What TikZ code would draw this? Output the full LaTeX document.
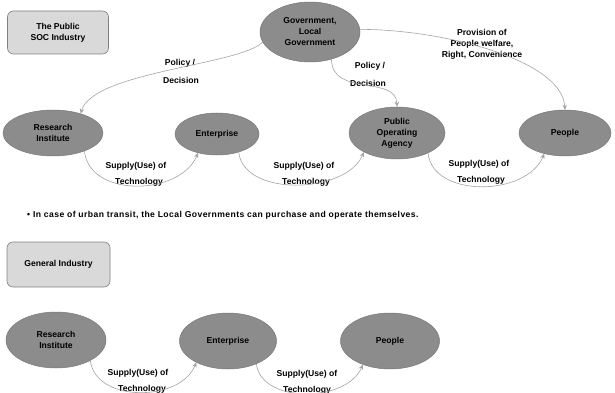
\documentclass[tikz,border=0pt]{standalone}
\usepackage{fontspec}
\setmainfont{Liberation Sans}
\usetikzlibrary{arrows.meta,shapes.geometric}
\definecolor{ellfill}{HTML}{8C8C8C}
\definecolor{elldraw}{HTML}{787878}
\definecolor{boxfill}{HTML}{D9D9D9}
\definecolor{boxdraw}{HTML}{808080}
\definecolor{arrcol}{HTML}{A3A3A3}
\tikzset{
  base/.style={font=\fontsize{8.6}{11}\selectfont\bfseries, text=black, align=center},
  ell/.style={base, ellipse, fill=ellfill, draw=elldraw, line width=0.5pt, inner sep=0pt},
  tagbox/.style={base, rounded corners=6pt, fill=boxfill, draw=boxdraw, line width=0.6pt, inner sep=0pt},
  lbl/.style={base, inner sep=0pt},
  arr/.style={draw=arrcol, line width=0.6pt, -{Stealth[length=5pt,width=4.5pt]}},
}
\begin{document}
\begin{tikzpicture}[x=1pt,y=-1pt]
\useasboundingbox (0,0) rectangle (615,393);
\clip (0,0) rectangle (615,393);
% top section
\node[tagbox, minimum width=101pt, minimum height=43pt] (soc) at (58,32.5) {The Public\\SOC Industry};
\node[ell, minimum width=100pt, minimum height=60pt] (gov) at (310,32) {Government,\\Local\\Government};
\node[ell, minimum width=100pt, minimum height=46pt] (ri1) at (53,133) {Research\\Institute};
\node[ell, minimum width=84pt, minimum height=42pt] (ent1) at (217,134) {Enterprise};
\node[ell, minimum width=96pt, minimum height=52pt] (poa) at (397,133) {Public\\Operating\\Agency};
\node[ell, minimum width=92pt, minimum height=46pt] (ppl1) at (565,133) {People};
% top labels
\node[lbl] (pd1a) at (180,63) {Policy /};
\node[lbl] (pd1b) at (181,80) {Decision};
\node[lbl] (pd2a) at (370,66) {Policy /};
\node[lbl] (pd2b) at (368,83) {Decision};
\node[lbl] (prov) at (482,44) {Provision of\\People welfare,\\Right, Convenience};
\node[lbl] (s1a) at (136,166) {Supply(Use) of};
\node[lbl] (s1b) at (139,182) {Technology};
\node[lbl] (s2a) at (304,166) {Supply(Use) of};
\node[lbl] (s2b) at (306,182) {Technology};
\node[lbl] (s3a) at (479,164) {Supply(Use) of};
\node[lbl] (s3b) at (481,180) {Technology};
% top connectors
\draw[arr] (gov.192) .. controls +(-22,23) and +(12,-42) .. (ri1.35);
\draw[arr] (gov.-52) .. controls +(1,38) and +(-1,-32) .. (poa.north);
\draw[arr] (gov.3) .. controls +(82,0) and +(-3,-50) .. (ppl1.north);
\draw[arr] (ri1.-30) .. controls +(5,47) and +(-18,43) .. (ent1.-135);
\draw[arr] (ent1.-40) .. controls +(5,45) and +(-18,42) .. (poa.-150);
\draw[arr] (poa.-33) .. controls +(5,45) and +(-18,43) .. (ppl1.-135);
% note
\node[lbl, anchor=west] (note) at (27,215) {\addfontfeature{LetterSpace=4.9}• In case of urban transit, the Local Governments can purchase and operate themselves.};
% bottom section
\node[tagbox, minimum width=103pt, minimum height=45pt] (gen) at (58.5,264.5) {General Industry};
\node[ell, minimum width=100pt, minimum height=56pt] (ri2) at (56,340) {Research\\Institute};
\node[ell, minimum width=97pt, minimum height=56pt] (ent2) at (228,341) {Enterprise};
\node[ell, minimum width=99pt, minimum height=56pt] (ppl2) at (390,341) {People};
\node[lbl] (s4a) at (138,373) {Supply(Use) of};
\node[lbl] (s4b) at (142,389) {Technology};
\node[lbl] (s5a) at (307,374) {Supply(Use) of};
\node[lbl] (s5b) at (307,390) {Technology};
\draw[arr] (ri2.-31) .. controls +(5,42) and +(-16,40) .. (ent2.-146);
\draw[arr] (ent2.-39) .. controls +(5,40) and +(-16,38) .. (ppl2.-139);
\end{tikzpicture}
\end{document}
